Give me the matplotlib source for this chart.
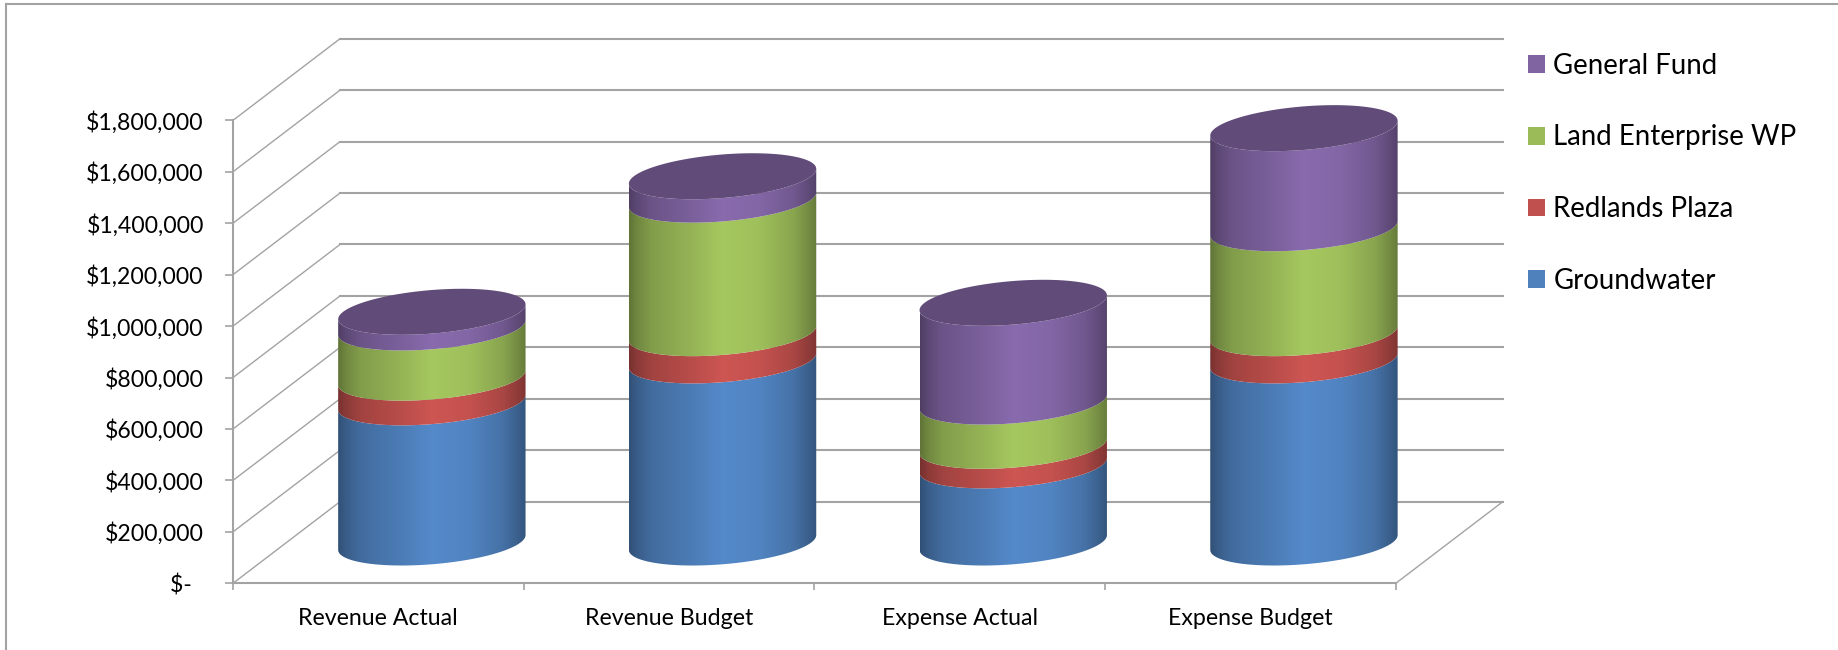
#plot.py
# stacked 3D-look cylinder chart of fund totals, drawn on a plain 2D axes
import numpy as np
import matplotlib
matplotlib.use('Agg')
import matplotlib.pyplot as plt
from matplotlib.lines import Line2D
from matplotlib.patches import Patch, Polygon
from matplotlib.colors import to_rgb

categories = ['Revenue Actual', 'Revenue Budget', 'Expense Actual', 'Expense Budget']
groundwater = [545000, 708000, 300000, 708000]
redlands_plaza = [96000, 106000, 76000, 106000]
land_enterprise = [195000, 519000, 172000, 408000]
general_fund = [61000, 91000, 384000, 389000]
series_names = ['Groundwater', 'Redlands Plaza', 'Land Enterprise WP', 'General Fund']
series_values = [groundwater, redlands_plaza, land_enterprise, general_fund]
series_colors = ['#4f81bd', '#c0504d', '#9bbb59', '#8064a2']
value_ticks = [0, 200000, 400000, 600000, 800000, 1000000, 1200000, 1400000, 1600000, 1800000]
value_labels = ['$-  ', '$200,000', '$400,000', '$600,000', '$800,000', '$1,000,000',
                '$1,200,000', '$1,400,000', '$1,600,000', '$1,800,000']

W, H = 1838, 650
plt.rcParams['font.family'] = ['Lato', 'DejaVu Sans']
GREY = '#a3a3a3'

# axes fills the figure, x in categories and y in dollars
px_per_cat = 290.7
px_per_dollar = 51.44 / 200000
x0_px, y0_px = 233.0, 583.3
fig = plt.figure(figsize=(W / 100, H / 100), dpi=100)
ax = fig.add_axes([0, 0, 1, 1])
xlim = (-x0_px / px_per_cat, (W - x0_px) / px_per_cat)
ylim = (-(H - y0_px) / px_per_dollar, y0_px / px_per_dollar)
ax.set_xlim(xlim)
ax.set_ylim(ylim)
ax.autoscale(False)

# oblique depth of the floor, front edge to back wall
depth_x = 107.0 / px_per_cat
depth_y = 81.6 / px_per_dollar
radius_x = 88.7 / px_per_cat
radius_d = 0.282

# wall lines
n = len(categories)
for v in value_ticks:
    ax.plot([0, depth_x], [v, v + depth_y], color=GREY, lw=1.0, zorder=1, solid_capstyle='round')
    ax.plot([depth_x, n + depth_x], [v + depth_y, v + depth_y], color=GREY, lw=1.5, zorder=1)
ax.plot([n, n + depth_x], [0, depth_y], color=GREY, lw=1.0, zorder=1)

# brightness across a cylinder side
shade_pos = [0.0, 0.04, 0.12, 0.35, 0.5, 0.7, 0.88, 0.97, 1.0]
shade_val = [0.62, 0.72, 0.84, 0.97, 1.07, 1.02, 0.88, 0.72, 0.66]
shade = np.interp(np.linspace(0, 1, 256), shade_pos, shade_val)
t_edge = np.arctan2(depth_x * radius_d, radius_x)


def ring(center, base, t):
    xs = center + radius_x * np.cos(t) + depth_x * radius_d * np.sin(t)
    ys = base + depth_y * (0.5 + radius_d * np.sin(t))
    return np.column_stack([xs, ys])


half_w = np.hypot(radius_x, depth_x * radius_d)
front = np.linspace(np.pi + t_edge, 2 * np.pi + t_edge, 120)
for i in range(n):
    center = i + 0.5 + depth_x / 2
    bottom = 0
    for values, color in zip(series_values, series_colors):
        top = bottom + values[i]
        outline = np.vstack([ring(center, bottom, front), ring(center, top, front[::-1])])
        clip = Polygon(outline, closed=True, transform=ax.transData, fc='none', ec='none')
        ax.add_patch(clip)
        rgb = np.clip(np.outer(shade, to_rgb(color)), 0, 1)[np.newaxis, :, :]
        im = ax.imshow(rgb, extent=(center - half_w, center + half_w, bottom - depth_y, top + depth_y),
                       aspect='auto', interpolation='bilinear', zorder=3 + i * 0.1)
        im.set_clip_path(clip)
        bottom = top
    # lid of the stack
    lid = ring(center, bottom, np.linspace(0, 2 * np.pi, 200))
    ax.add_patch(Polygon(lid, closed=True, fc='#614b79', ec='none', zorder=3.05 + i * 0.1))

ax.set_xlim(xlim)
ax.set_ylim(ylim)
ax.patch.set_visible(False)

# axes at the front of the box
for side in ['top', 'right']:
    ax.spines[side].set_visible(False)
ax.spines['left'].set_position(('data', 0))
ax.spines['left'].set_bounds(0, 1800000)
ax.spines['bottom'].set_position(('data', 0))
ax.spines['bottom'].set_bounds(0, n)
for side in ['left', 'bottom']:
    ax.spines[side].set_color(GREY)
    ax.spines[side].set_linewidth(1.5)
ax.set_yticks(value_ticks)
ax.set_yticklabels(value_labels)
ax.set_xticks(range(n + 1))
ax.set_xticklabels([''] * (n + 1))
ax.set_xticks(np.arange(n) + 0.5, categories, minor=True)
ax.tick_params(axis='y', length=6, width=1.2, color=GREY, labelsize=16.6, pad=15)
ax.tick_params(axis='x', which='major', length=5, width=1.2, color=GREY)
ax.tick_params(axis='x', which='minor', length=0, labelsize=16.7, pad=18)

handles = [Patch(fc=c, ec='none') for c in series_colors[::-1]]
ax.legend(handles, series_names[::-1], loc='upper left', bbox_to_anchor=(1527.5 / W, 1 - 52.5 / H),
          bbox_transform=fig.transFigure, frameon=False, fontsize=19.9, borderpad=0,
          borderaxespad=0, handlelength=0.62, handleheight=0.62, handletextpad=0.315,
          labelspacing=1.66)

# chart frame, open on the right and bottom
fig.add_artist(Line2D([6.3 / W, 6.3 / W], [0, 1 - 3.7 / H], color=GREY, lw=1.5))
fig.add_artist(Line2D([6.3 / W, 1], [1 - 3.7 / H, 1 - 3.7 / H], color=GREY, lw=1.5))

fig.savefig('out.png', dpi=100, facecolor='white')
